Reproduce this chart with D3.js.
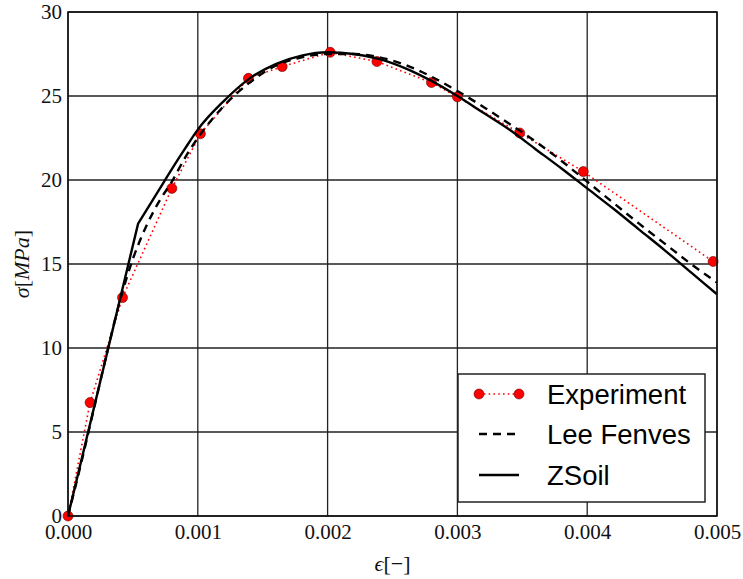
<!DOCTYPE html>
<html>
<head>
<meta charset="utf-8">
<script src="https://cdn.jsdelivr.net/npm/d3@7"></script>
<style>
  body { margin: 0; background: #fff; }
  svg { display: block; }
</style>
</head>
<body>
<div id="chart"></div>
<script>
// Experiment points (strain, stress)
const expStrain = [0, 0.00017, 0.00042, 0.0008, 0.00102, 0.00139, 0.00165, 0.00202, 0.00238, 0.0028, 0.003, 0.00348, 0.00397, 0.00497];
const expStress = [0, 6.75, 13.0, 19.5, 22.75, 26.05, 26.75, 27.6, 27.05, 25.8, 24.95, 22.8, 20.5, 15.15];

// Lee Fenves model
const leeStrain = [0, 0.0001, 0.0002, 0.0003, 0.0004, 0.0005, 0.0006, 0.0007, 0.0008, 0.0009, 0.001, 0.0012, 0.0014, 0.0016, 0.0018, 0.002, 0.0022, 0.0024, 0.0026, 0.0028, 0.003, 0.0032, 0.0034, 0.0036, 0.0038, 0.004, 0.0042, 0.0044, 0.0046, 0.0048, 0.005];
const leeStress = [0, 3.1, 6.4, 9.7, 12.8, 15.3, 17.2, 18.7, 19.9, 21.3, 22.5, 24.4, 25.8, 26.8, 27.3, 27.5, 27.5, 27.3, 26.85, 26.15, 25.3, 24.35, 23.35, 22.3, 21.15, 19.9, 18.65, 17.4, 16.2, 15.0, 13.9];

// ZSoil model (linear up to the kink, then smooth)
const zsoilStrain = [0, 0.00054, 0.0006, 0.0007, 0.0008, 0.0009, 0.001, 0.0012, 0.0014, 0.0016, 0.0018, 0.002, 0.0022, 0.0024, 0.0026, 0.0028, 0.003, 0.0032, 0.0034, 0.0036, 0.0038, 0.004, 0.0042, 0.0044, 0.0046, 0.0048, 0.005];
const zsoilStress = [0, 17.4, 18.15, 19.4, 20.65, 21.85, 23.0, 24.7, 26.05, 26.9, 27.4, 27.6, 27.5, 27.2, 26.65, 25.9, 25.0, 24.0, 23.0, 21.85, 20.7, 19.5, 18.3, 17.05, 15.8, 14.5, 13.2];

// Tick values
const xTicks = [0, 0.001, 0.002, 0.003, 0.004, 0.005];
const yTicks = [0, 5, 10, 15, 20, 25, 30];

const width = 743;
const height = 579;
const margin = { top: 12, right: 26, bottom: 63, left: 68 };

const xScale = d3.scaleLinear().domain([0, 0.005]).range([margin.left, width - margin.right]);
const yScale = d3.scaleLinear().domain([0, 30]).range([height - margin.bottom, margin.top]);

const svg = d3.select("#chart").append("svg").attr("width", width).attr("height", height);

const serif = "'Liberation Serif', 'DejaVu Serif', serif";
const sans = "'Liberation Sans', Arial, sans-serif";

// Grid
svg.append("g")
  .selectAll("line")
  .data(xTicks)
  .join("line")
  .attr("x1", (d) => xScale(d)).attr("x2", (d) => xScale(d))
  .attr("y1", yScale(0)).attr("y2", yScale(30))
  .attr("stroke", "#222").attr("stroke-width", 1.3);
svg.append("g")
  .selectAll("line")
  .data(yTicks)
  .join("line")
  .attr("y1", (d) => yScale(d)).attr("y2", (d) => yScale(d))
  .attr("x1", xScale(0)).attr("x2", xScale(0.005))
  .attr("stroke", "#222").attr("stroke-width", 1.3);

// Axes
const xAxis = d3.axisBottom(xScale).tickValues(xTicks).tickFormat(d3.format(".3f")).tickSize(0).tickPadding(8);
const yAxis = d3.axisLeft(yScale).tickValues(yTicks).tickFormat(d3.format("d")).tickSize(0).tickPadding(6);

svg.append("g")
  .attr("transform", `translate(0, ${yScale(0)})`)
  .call(xAxis)
  .call((g) => g.select(".domain").remove())
  .selectAll("text")
  .attr("font-family", serif).attr("font-size", 21).attr("fill", "#111");

svg.append("g")
  .attr("transform", `translate(${xScale(0)}, 0)`)
  .call(yAxis)
  .call((g) => g.select(".domain").remove())
  .selectAll("text")
  .attr("font-family", serif).attr("font-size", 21).attr("fill", "#111");

// Line generators
const line = d3.line().x((d) => xScale(d[0])).y((d) => yScale(d[1]));
const smooth = d3.line().curve(d3.curveMonotoneX).x((d) => xScale(d[0])).y((d) => yScale(d[1]));
const expData = expStrain.map((x, i) => [x, expStress[i]]);
const leeData = leeStrain.map((x, i) => [x, leeStress[i]]);
const zsoilData = zsoilStrain.map((x, i) => [x, zsoilStress[i]]);

const plot = svg.append("g");

// Experiment
plot.append("path")
  .datum(expData)
  .attr("d", line)
  .attr("fill", "none").attr("stroke", "#ff0000")
  .attr("stroke-width", 1.6).attr("stroke-dasharray", "1.6,3.2");
plot.selectAll("circle.exp")
  .data(expData)
  .join("circle")
  .attr("class", "exp")
  .attr("cx", (d) => xScale(d[0])).attr("cy", (d) => yScale(d[1]))
  .attr("r", 5).attr("fill", "#ff0000").attr("stroke", "#600").attr("stroke-width", 0.6);

// Lee Fenves
plot.append("path")
  .datum(leeData)
  .attr("d", smooth)
  .attr("fill", "none").attr("stroke", "#000")
  .attr("stroke-width", 2.4).attr("stroke-dasharray", "8,6");

// ZSoil: straight elastic part, then smooth curve from the kink
const zsoilPath = line(zsoilData.slice(0, 2)) + smooth(zsoilData.slice(1)).replace(/^M[^LC]*/, "L" + xScale(zsoilData[1][0]) + "," + yScale(zsoilData[1][1]));
plot.append("path")
  .attr("d", zsoilPath)
  .attr("fill", "none").attr("stroke", "#000")
  .attr("stroke-width", 2.4).attr("stroke-linejoin", "miter");

// Frame
svg.append("rect")
  .attr("x", xScale(0)).attr("y", yScale(30))
  .attr("width", xScale(0.005) - xScale(0)).attr("height", yScale(0) - yScale(30))
  .attr("fill", "none").attr("stroke", "#111").attr("stroke-width", 1.5);

// Axis labels
svg.append("text")
  .attr("x", (xScale(0) + xScale(0.005)) / 2).attr("y", 571)
  .attr("text-anchor", "middle")
  .attr("font-family", serif).attr("font-size", 22).attr("fill", "#111")
  .html('<tspan font-style="italic">ϵ</tspan>[−]');

svg.append("text")
  .attr("transform", `translate(29, ${(yScale(0) + yScale(30)) / 2}) rotate(-90)`)
  .attr("text-anchor", "middle")
  .attr("font-family", serif).attr("font-size", 22).attr("fill", "#111")
  .html('<tspan font-style="italic">σ</tspan>[<tspan font-style="italic">MPa</tspan>]');

// Legend
const legend = svg.append("g");
legend.append("rect")
  .attr("x", 458).attr("y", 374).attr("width", 247).attr("height", 128)
  .attr("fill", "#fff").attr("stroke", "#222").attr("stroke-width", 1.5);

const legendItems = ["Experiment", "Lee Fenves", "ZSoil"];
const rowY = [394, 434, 475];

legendItems.forEach((name, i) => {
  const y = rowY[i];
  const x0 = 479, x1 = 519;
  if (i === 0) {
    legend.append("line")
      .attr("x1", x0).attr("x2", x1).attr("y1", y).attr("y2", y)
      .attr("stroke", "#ff0000").attr("stroke-width", 1.6).attr("stroke-dasharray", "1.6,3.2");
    [x0, x1].forEach((cx) =>
      legend.append("circle").attr("cx", cx).attr("cy", y).attr("r", 5)
        .attr("fill", "#ff0000").attr("stroke", "#600").attr("stroke-width", 0.6));
  } else {
    legend.append("line")
      .attr("x1", x0).attr("x2", x1).attr("y1", y).attr("y2", y)
      .attr("stroke", "#000").attr("stroke-width", 2.4)
      .attr("stroke-dasharray", i === 1 ? "8,6" : null);
  }
  legend.append("text")
    .attr("x", 547).attr("y", y).attr("dy", "0.36em")
    .attr("font-family", sans).attr("font-size", 27.5).attr("fill", "#000")
    .text(name);
});
</script>
</body>
</html>
